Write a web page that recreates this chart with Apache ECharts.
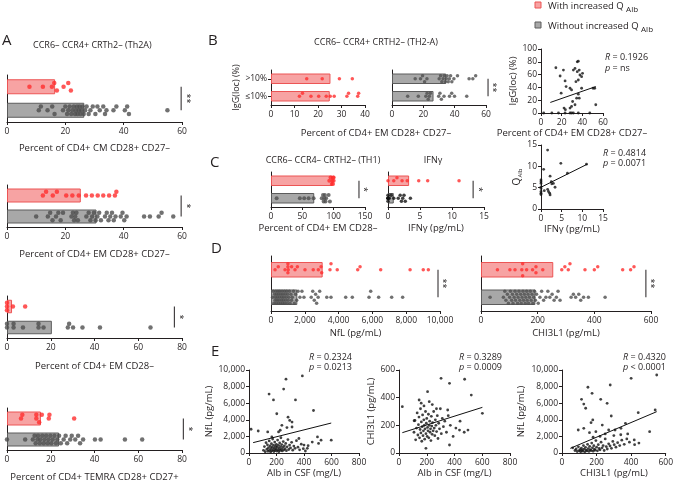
<!DOCTYPE html>
<html><head><meta charset="utf-8">
<script src="https://cdn.jsdelivr.net/npm/echarts@6/dist/echarts.min.js"></script>
<style>html,body{margin:0;padding:0;background:#fff}#c{width:676px;height:483px}</style>
</head><body><div id="c"></div>
<script>
// ================= DATA =================
// group order: index 0 = without increased Q_Alb (grey, bottom), 1 = with increased Q_Alb (red, top)
const groupCats = ['without', 'with'];

// A  CCR6– CCR4+ CRTh2– (Th2A)
const aCmBar = [26.5, 16.5];
const aCmWith = [7.7, 12.3, 15.4, 16.2, 17.1, 19.4, 21.0, 21.9];
const aCmWithout = [10.9, 11.6, 13.9, 15.5, 16.3, 19.2, 20.0, 20.6, 21.0, 21.5, 22.0, 22.4, 22.9, 23.3, 23.6, 24.0, 24.2, 24.6, 24.9, 25.2, 25.5, 25.9, 26.3, 26.8, 27.3, 28.0, 28.6, 29.4, 30.3, 31.0, 31.8, 33.0, 33.6, 34.1, 36.5, 37.5, 40.4, 41.2, 41.8, 55.0];

const aEm2827Bar = [30.7, 25.3];
const aEm2827With = [12.3, 13.4, 15.7, 17.1, 20.3, 22.4, 24.6, 27.1, 29.1, 31.1, 33.0, 35.0, 37.0, 37.5];
const aEm2827Without = [10.0, 14.0, 14.8, 15.6, 16.8, 17.6, 18.4, 19.2, 22.1, 22.6, 23.0, 23.4, 23.8, 24.3, 27.2, 28.0, 28.6, 29.2, 29.8, 30.4, 31.0, 31.6, 32.2, 33.6, 34.2, 34.8, 35.4, 36.0, 36.6, 37.2, 39.0, 39.6, 40.2, 41.0, 47.0, 49.0, 52.0, 53.0, 57.0];

const aEm28Bar = [20.5, 2.3];
const aEm28With = [0, 0, 0, 2.7, 8.3];
const aEm28Without = [0, 0, 3.0, 3.0, 7.3, 14.4, 14.4, 16.7, 27.8, 28.4, 30.2, 34.5, 42.5, 65.6];

const aTemraBar = [23.8, 15.5];
const aTemraWith = [6.4, 7.0, 13.4, 13.4, 14.7, 15.9, 19.1, 19.4, 30.7];
const aTemraWithout = [0, 8.3, 11.8, 12.6, 13.1, 13.9, 14.2, 15.0, 15.3, 16.1, 16.8, 17.2, 17.9, 18.6, 19.0, 19.8, 20.3, 20.9, 21.7, 22.4, 23.0, 23.8, 24.6, 25.9, 26.8, 27.5, 28.9, 29.6, 31.2, 32.5, 33.4, 34.8, 40.2, 42.8, 53.9, 61.8];

// B  CCR6– CCR4+ CRTH2– (TH2-A) by IgG(loc)
const bCats = ['≤10%', '>10%'];
const bWithBar = [25.0, 25.3];
const bWithLow = [12.1, 13.4, 17.0, 20.3, 23.5, 25.2, 26.9, 32.3, 33.0, 36.9, 37.3];
const bWithHigh = [15.2, 21.8, 29.1, 34.6];
const bWithoutBar = [26.5, 34.6];
const bWithoutLow = [10.0, 16.8, 21.6, 22.4, 23.1, 23.8, 24.5, 29.8, 30.6, 31.5, 33.2, 36.7, 38.1, 39.9, 47.7];
const bWithoutHigh = [14.8, 18.2, 19.5, 20.8, 22.3, 30.1, 31.0, 31.8, 32.6, 33.3, 34.0, 34.7, 35.2, 35.9, 36.6, 37.4, 38.2, 39.5, 41.8, 49.2, 51.6, 53.4];
const bScatter = [[14.4,70.7],[18.5,57.8],[19.5,31.0],[21.7,67.1],[23.3,50.1],[24.3,41.3],[22.3,7.7],[23.6,5.2],[28.1,38.7],[29.6,36.1],[31.3,67.1],[32.9,69.7],[35.1,80],[36.1,81],[35.1,64.5],[37.0,67.1],[37.7,59.4],[39.3,56.8],[40.2,62],[39.3,38.7],[33.8,49],[36.1,29.4],[34.5,23.2],[37,23.2],[30.6,18],[32.9,12.9],[28.1,7.7],[29.6,10.3],[36.1,51.6],[50.4,38.7],[52,38.7],[53,12.9],[2.6,0],[10.5,0],[16.9,0],[23.3,0],[28.1,0],[29.6,0],[31.3,0],[36.1,0],[47.2,0]];
const bFit = [[9, 16.5], [53, 41.3]];

// C  CCR6– CCR4– CRTH2– (TH1) and IFNγ
const cTh1Bar = [69, 98];
const cTh1With = [93, 95, 97, 98, 99, 99, 100, 100];
const cTh1Without = [9, 46, 53, 60, 68, 81, 83, 84, 85, 86, 87, 88, 92, 94];
const cIfnBar = [0.9, 3.3];
const cIfnWith = [0, 0.9, 1.4, 2.2, 3.0, 4.8, 6.2, 11.1];
const cIfnWithout = [0, 0, 0, 0, 0, 0.2, 0.5, 0.9, 1.6, 1.9, 2.1, 2.3, 2.5, 2.7, 3.5];
const cScatter = [[1.6,13.8],[0.64,9.3],[4.8,10.7],[11.0,10.5],[6.4,8.4],[2.2,7.7],[2.5,6.4],[3.0,6.0],[2.6,5.9],[3.4,5.1],[1.6,4.6],[1.8,4.1],[2.1,3.7],[2.2,3.3],[0.8,4.3],[0,6.8],[0,6.4],[0,6.0],[0,5.2],[0,4.8],[0,4.1],[0,3.7],[0,3.4]];
const cFit = [[0, 5.1], [11.2, 10.5]];

// D  NfL and CHI3L1
const dNflBar = [1558, 3057];
const dNflWith = [240, 430, 830, 1000, 1000, 1000, 1020, 1220, 1420, 1560, 2010, 2500, 2800, 2960, 3000, 3490, 3550, 3920, 5130, 5270, 6490, 8230, 9010, 9310];
const dNflWithout = [95, 140, 175, 210, 240, 255, 290, 310, 335, 360, 375, 410, 440, 455, 470, 505, 520, 560, 585, 610, 640, 655, 690, 705, 730, 760, 795, 810, 840, 870, 905, 930, 960, 985, 1020, 1060, 1090, 1130, 1180, 1215, 1260, 1330, 1380, 1450, 1520, 1600, 1710, 1830, 1950, 2380, 2470, 2560, 2640, 2700, 2790, 2880, 3300, 3550, 4420, 4810, 5800, 5900, 6370, 7140, 7790];
const dChiBar = [192, 255];
const dChiWith = [58, 102, 120, 144, 147, 147, 161, 182, 194, 194, 218, 285, 296, 308, 314, 367, 400, 412, 500, 528, 540];
const dChiWithout = [32, 79, 84, 88, 93, 97, 101, 104, 108, 111, 113, 117, 120, 122, 126, 129, 131, 134, 137, 140, 142, 145, 148, 150, 153, 156, 158, 161, 163, 166, 168, 171, 174, 177, 180, 183, 186, 189, 192, 196, 202, 208, 214, 221, 229, 236, 243, 251, 258, 266, 272, 279, 318, 326, 334, 345, 352, 362, 379, 438];

// E  correlations
const eAlbNfl = [[105,320],[112,780],[118,150],[124,1250],[130,460],[134,980],[138,210],[142,640],[147,1450],[150,330],[153,860],[157,120],[160,540],[163,1120],[166,260],[169,720],[172,1680],[175,410],[178,950],[181,180],[184,610],[187,1320],[190,300],[193,820],[196,490],[199,1050],[202,230],[205,700],[208,1560],[211,380],[214,920],[217,160],[220,560],[223,1210],[226,310],[229,780],[232,1840],[235,440],[238,1010],[241,250],[245,660],[249,1380],[253,350],[257,870],[262,520],[267,1150],[272,280],[277,740],[283,1620],[289,420],[295,960],[302,610],[310,1290],[318,340],[326,830],[335,560],[345,1480],[356,700],[368,380],[380,1060],[395,520],[410,240],[430,880],[460,1320],
  [15,2860],[67,2650],[136,2540],[146,7100],[178,6390],[202,4730],[227,2740],[252,7700],[269,8890],[338,6390],[388,9290],[469,5120],[313,3730],[166,1940],[215,2540],[239,3330],[276,3060],[284,4320],[296,3930],[313,3130],[363,1750],[400,950],[424,560],[498,1940],[524,1550],[598,1550],[506,1150]];
const eAlbNflFit = [[30, 1250], [598, 3610]];
const eAlbChi = [[108,150],[115,235],[120,95],[126,180],[131,290],[136,130],[140,205],[144,260],[148,110],[152,170],[155,320],[158,145],[161,225],[164,85],[167,190],[170,275],[173,125],[176,160],[179,240],[182,200],[185,100],[188,175],[191,300],[194,140],[197,215],[200,250],[203,120],[206,185],[209,160],[212,280],[215,110],[218,200],[221,230],[224,150],[227,175],[230,90],[233,265],[236,195],[239,135],[242,220],[246,160],[250,300],[254,180],[258,125],[262,240],[266,200],[271,155],[276,270],[281,105],[286,215],[292,175],[298,320],[305,140],[312,250],[320,190],[330,230],[342,150],[355,270],[370,200],[390,120],[410,180],[440,230],[470,150],
  [24,335],[109,233],[145,383],[206,443],[218,371],[303,540],[364,504],[351,311],[364,58],[194,34],[436,166],[473,533],[521,419],[497,166],[601,287],[160,360],[180,340],[240,350],[270,320]];
const eAlbChiFit = [[24, 147], [601, 330]];
const eChiNfl = [[62,620],[75,300],[82,480],[88,180],[95,750],[100,260],[104,410],[108,150],[112,580],[116,330],[120,220],[124,900],[128,470],[132,140],[136,680],[140,350],[144,250],[148,1050],[152,520],[156,190],[160,790],[164,400],[168,300],[172,1200],[176,620],[180,220],[184,880],[188,450],[192,340],[196,1500],[200,700],[205,260],[210,1000],[215,540],[220,380],[226,1300],[232,620],[238,900],[244,300],[250,1700],[256,780],[262,480],[270,1100],[278,850],[286,560],[294,1400],[302,1000],[312,700],[322,1250],[334,900],[346,1550],[360,1050],[375,1700],[390,1300],[420,1000],[445,1200],
  [400,9000],[548,9400],[279,8190],[150,7920],[174,7190],[113,6470],[224,6470],[126,5900],[137,5390],[261,5990],[539,5180],[441,4860],[285,4460],[507,2570],[418,1570],[94,2770],[126,2970],[178,3980],[168,3650],[233,3370],[367,3580],[341,2970],[307,2770],[270,2770],[196,2570],[159,2450],[340,2200],[300,2100],[220,2000],[180,1900],[250,2300],[380,2300]];
const eChiNflFit = [[48, 560], [548, 4980]];

// ================= STYLE / LAYOUT =================
const FONT = 'Open Sans';
const TXT = '#231f20';
const RED_FILL = '#f7a3a3', RED_EDGE = '#ec5555', RED_DOT = '#ff2d2d';
const GRAY_FILL = '#a8a8a8', GRAY_EDGE = '#5c5c5c', GRAY_DOT = '#4d4d4d';
const fmtK = v => String(v).replace(/\B(?=(\d{3})+(?!\d))/g, ',');

const grids = [], xAxes = [], yAxes = [], series = [], sigs = [];

function xAxisDef(gi, max, interval, name, nameGap, fmt) {
  return {gridIndex: gi, type: 'value', min: 0, max: max, interval: interval,
    axisLine: {show: true, onZero: false, lineStyle: {color: TXT, width: 1}},
    axisTick: {show: true, length: 3, lineStyle: {color: TXT}},
    axisLabel: {fontSize: 8.5, color: TXT, margin: 5, fontFamily: FONT, formatter: fmt},
    splitLine: {show: false},
    name: name || '', nameLocation: 'middle', nameGap: nameGap,
    nameTextStyle: {fontSize: 9.5, color: TXT, fontFamily: FONT}};
}

function swarm(vals, ppu, d, maxOff) {
  const idx = vals.map((v, i) => i).sort((a, b) => vals[a] - vals[b]);
  const placed = [], out = new Array(vals.length).fill(0);
  const step = d * 0.8;
  const cands = [0];
  for (let k = 1; k * step <= maxOff + 0.001; k++) cands.push(-k * step, k * step);
  for (const i of idx) {
    const x = vals[i] * ppu;
    let best = 0, bestD = -1;
    for (const c of cands) {
      let md = Infinity;
      for (const p of placed) {
        const dx = p.x - x;
        if (Math.abs(dx) < d) { const dd = Math.hypot(dx, p.y - c); if (dd < md) md = dd; }
      }
      if (md >= d) { best = c; break; }
      if (md > bestD) { bestD = md; best = c; }
    }
    placed.push({x: x, y: best}); out[i] = best;
  }
  return out;
}

function barPanel(box, cfg) {
  const gi = grids.length;
  grids.push({left: box.l, top: box.t, width: box.w, height: box.h});
  xAxes.push(xAxisDef(gi, cfg.max, cfg.interval, cfg.name, cfg.nameGap, cfg.fmt));
  yAxes.push({gridIndex: gi, type: 'category', data: cfg.cats,
    axisLine: {show: true, lineStyle: {color: TXT, width: 1}},
    axisTick: {show: !!cfg.catLabels, alignWithLabel: true, length: 3, lineStyle: {color: TXT}},
    axisLabel: {show: !!cfg.catLabels, fontSize: 8.5, color: TXT, margin: 4, fontFamily: FONT},
    name: cfg.yName || '', nameLocation: 'middle', nameGap: cfg.yNameGap || 30,
    nameTextStyle: {fontSize: 9, color: TXT, fontFamily: FONT}});
  series.push({type: 'bar', xAxisIndex: gi, yAxisIndex: gi, barWidth: box.bw, silent: true, z: 2,
    data: cfg.bars.map((v, i) => ({value: v, itemStyle: {color: cfg.fills[i], borderColor: cfg.edges[i], borderWidth: 1}}))});
  const ppu = box.w / cfg.max;
  cfg.groups.forEach((vals, ci) => {
    const offs = swarm(vals, ppu, box.ds + 0.2, box.bw / 2 - box.ds / 2 + 0.5);
    series.push({type: 'scatter', xAxisIndex: gi, yAxisIndex: gi, symbol: 'circle', symbolSize: box.ds,
      silent: true, z: 3, itemStyle: {color: cfg.dots[ci]},
      data: vals.map((v, k) => ({value: [v, ci], symbolOffset: [0, offs[k]]}))});
  });
  if (cfg.sig) sigs.push({gi: gi, x: cfg.sig[0], text: cfg.sig[1]});
}

function scatterPanel(box, cfg) {
  const gi = grids.length;
  grids.push({left: box.l, top: box.t, width: box.w, height: box.h});
  xAxes.push(xAxisDef(gi, cfg.xmax, cfg.xint, cfg.xname, cfg.xGap, cfg.xfmt));
  yAxes.push({gridIndex: gi, type: 'value', min: 0, max: cfg.ymax, interval: cfg.yint,
    axisLine: {show: true, onZero: false, lineStyle: {color: TXT, width: 1}},
    axisTick: {show: true, length: 3, lineStyle: {color: TXT}},
    axisLabel: {fontSize: 8.5, color: TXT, margin: 4, fontFamily: FONT, formatter: cfg.yfmt},
    splitLine: {show: false},
    name: cfg.yname, nameLocation: 'middle', nameGap: cfg.yGap,
    nameTextStyle: Object.assign({fontSize: 9.5, color: TXT, fontFamily: FONT}, cfg.yRich ? {rich: cfg.yRich} : {})});
  series.push({type: 'scatter', xAxisIndex: gi, yAxisIndex: gi, data: cfg.pts, symbol: 'circle', symbolSize: 2.8,
    silent: true, itemStyle: {color: '#111'}});
  series.push({type: 'line', xAxisIndex: gi, yAxisIndex: gi, data: cfg.fit, symbol: 'none', silent: true,
    lineStyle: {color: '#111', width: 1}});
}

const fillsRG = [GRAY_FILL, RED_FILL], edgesRG = [GRAY_EDGE, RED_EDGE], dotsRG = [GRAY_DOT, RED_DOT];

// Panel A
barPanel({l: 7, t: 75, w: 175, h: 47, bw: 15, ds: 4.5}, {cats: groupCats, max: 60, interval: 20,
  name: 'Percent of CD4+ CM CD28+ CD27–', nameGap: 21, bars: aCmBar, fills: fillsRG, edges: edgesRG, dots: dotsRG,
  groups: [aCmWithout, aCmWith], sig: [59.7, '**']});
barPanel({l: 7, t: 185, w: 175, h: 42, bw: 14, ds: 4.5}, {cats: groupCats, max: 60, interval: 20,
  name: 'Percent of CD4+ EM CD28+ CD27–', nameGap: 22, bars: aEm2827Bar, fills: fillsRG, edges: edgesRG, dots: dotsRG,
  groups: [aEm2827Without, aEm2827With], sig: [59.7, '*']});
barPanel({l: 7, t: 296, w: 175, h: 42, bw: 13.5, ds: 4.5}, {cats: groupCats, max: 80, interval: 20,
  name: 'Percent of CD4+ EM CD28–', nameGap: 23, bars: aEm28Bar, fills: fillsRG, edges: edgesRG, dots: dotsRG,
  groups: [aEm28Without, aEm28With], sig: [76.5, '*']});
barPanel({l: 7, t: 408, w: 175, h: 42, bw: 14, ds: 4.5}, {cats: groupCats, max: 80, interval: 20,
  name: 'Percent of CD4+ TEMRA CD28+ CD27+', nameGap: 22, bars: aTemraBar, fills: fillsRG, edges: edgesRG, dots: dotsRG,
  groups: [aTemraWithout, aTemraWith], sig: [80.6, '*']});

// Panel B
barPanel({l: 271, t: 70, w: 94, h: 35, bw: 10.5, ds: 3.5}, {cats: bCats, max: 40, interval: 10, catLabels: true,
  yName: 'IgG(loc) (%)', yNameGap: 30, bars: bWithBar, fills: [RED_FILL, RED_FILL], edges: [RED_EDGE, RED_EDGE],
  dots: [RED_DOT, RED_DOT], groups: [bWithLow, bWithHigh]});
barPanel({l: 392, t: 70, w: 94, h: 35, bw: 10.5, ds: 3.5}, {cats: bCats, max: 60, interval: 20,
  bars: bWithoutBar, fills: [GRAY_FILL, GRAY_FILL], edges: [GRAY_EDGE, GRAY_EDGE],
  dots: [GRAY_DOT, GRAY_DOT], groups: [bWithoutLow, bWithoutHigh], sig: [61.3, '**']});
scatterPanel({l: 541, t: 49, w: 62, h: 64}, {xmax: 60, xint: 20, ymax: 100, yint: 20,
  xname: 'Percent of CD4+ EM CD28+ CD27–', xGap: 12, yname: 'IgG(loc) (%)', yGap: 14, pts: bScatter, fit: bFit});

// Panel C
barPanel({l: 271, t: 172, w: 94, h: 35, bw: 10.5, ds: 4}, {cats: groupCats, max: 150, interval: 50,
  name: 'Percent of CD4+ EM CD28–', nameGap: 16, bars: cTh1Bar, fills: fillsRG, edges: edgesRG, dots: dotsRG,
  groups: [cTh1Without, cTh1With], sig: [140.4, '*']});
barPanel({l: 388, t: 172, w: 96, h: 35, bw: 10.5, ds: 3.5}, {cats: groupCats, max: 15, interval: 5,
  name: 'IFNγ (pg/mL)', nameGap: 16, bars: cIfnBar, fills: fillsRG, edges: edgesRG, dots: ['#111', RED_DOT],
  groups: [cIfnWithout, cIfnWith], sig: [13.3, '*']});
scatterPanel({l: 541, t: 145, w: 62, h: 64}, {xmax: 15, xint: 5, ymax: 15, yint: 5,
  xname: 'IFNγ (pg/mL)', xGap: 14, yname: '{q|Q}{s|Alb}', yGap: 16,
  yRich: {q: {fontSize: 10, fontFamily: FONT, color: TXT}, s: {fontSize: 6, fontFamily: FONT, color: TXT, padding: [6, 0, 0, 0]}},
  pts: cScatter, fit: cFit});

// Panel D
barPanel({l: 271, t: 256, w: 169, h: 55, bw: 15.5, ds: 3.5}, {cats: groupCats, max: 10000, interval: 2000, fmt: fmtK,
  name: 'NfL (pg/mL)', nameGap: 17, bars: dNflBar, fills: fillsRG, edges: edgesRG, dots: dotsRG,
  groups: [dNflWithout, dNflWith], sig: [9882, '**']});
barPanel({l: 481, t: 256, w: 170, h: 55, bw: 15.5, ds: 3.5}, {cats: groupCats, max: 600, interval: 200,
  name: 'CHI3L1 (pg/mL)', nameGap: 17, bars: dChiBar, fills: fillsRG, edges: edgesRG, dots: dotsRG,
  groups: [dChiWithout, dChiWith], sig: [582, '**']});

// Panel E
scatterPanel({l: 249, t: 370, w: 110, h: 83}, {xmax: 800, xint: 200, ymax: 10000, yint: 2000, yfmt: fmtK,
  xname: 'Alb in CSF (mg/L)', xGap: 13, yname: 'NfL (pg/mL)', yGap: 33, pts: eAlbNfl, fit: eAlbNflFit});
scatterPanel({l: 399, t: 370, w: 111, h: 83}, {xmax: 800, xint: 200, ymax: 600, yint: 200,
  xname: 'Alb in CSF (mg/L)', xGap: 13, yname: 'CHI3L1 (pg/mL)', yGap: 21, pts: eAlbChi, fit: eAlbChiFit});
scatterPanel({l: 562, t: 370, w: 104, h: 83}, {xmax: 600, xint: 200, ymax: 10000, yint: 2000, yfmt: fmtK,
  xname: 'CHI3L1 (pg/mL)', xGap: 13, yname: 'NfL (pg/mL)', yGap: 36, pts: eChiNfl, fit: eChiNflFit});

// ================= TEXT =================
function txt(x, y, text, opt) {
  opt = opt || {};
  return {type: 'text', x: x, y: y, silent: true, rotation: opt.rot || 0,
    style: {text: text, fontSize: opt.fs || 9.5, fontFamily: FONT, fill: TXT,
      align: opt.align || 'left', textAlign: opt.align || 'left',
      verticalAlign: 'middle', textVerticalAlign: 'middle', rich: opt.rich}};
}
const itRich = {i: {fontStyle: 'italic', fontSize: 9, fontFamily: FONT, fill: TXT, color: TXT}, n: {fontSize: 9, fontFamily: FONT, fill: TXT, color: TXT}};
const legRich = {a: {fontSize: 9.5, fontFamily: FONT, color: TXT, lineHeight: 12}, s: {fontSize: 8, fontFamily: FONT, color: TXT, lineHeight: 8, padding: [8, 0, 0, 0]}};
const texts = [
  txt(2, 41, 'A', {fs: 15}), txt(208, 41, 'B', {fs: 15}), txt(210, 163, 'C', {fs: 15}),
  txt(211, 249, 'D', {fs: 15}), txt(211, 352, 'E', {fs: 15}),
  txt(33, 45, 'CCR6– CCR4+ CRTh2– (Th2A)', {fs: 9}),
  txt(376, 42, 'CCR6– CCR4+ CRTH2– (TH2-A)', {fs: 9, align: 'center'}),
  txt(376, 133, 'Percent of CD4+ EM CD28+ CD27–', {fs: 9.5, align: 'center'}),
  txt(323, 160, 'CCR6– CCR4– CRTH2– (TH1)', {fs: 9, align: 'center'}),
  txt(433, 160, 'IFNγ', {fs: 9, align: 'center'}),
  txt(605, 57, '{i|R}{n| = 0.1926}', {rich: itRich}), txt(605, 68, '{i|p}{n| = ns}', {rich: itRich}),
  txt(603, 153, '{i|R}{n| = 0.4814}', {rich: itRich}), txt(603, 163, '{i|p}{n| = 0.0071}', {rich: itRich}),
  txt(352, 357, '{i|R}{n| = 0.2324}', {rich: itRich, align: 'right'}), txt(352, 367, '{i|p}{n| = 0.0213}', {rich: itRich, align: 'right'}),
  txt(502, 357, '{i|R}{n| = 0.3289}', {rich: itRich, align: 'right'}), txt(502, 367, '{i|p}{n| = 0.0009}', {rich: itRich, align: 'right'}),
  txt(666, 357, '{i|R}{n| = 0.4320}', {rich: itRich, align: 'right'}), txt(666, 367, '{i|p}{n| < 0.0001}', {rich: itRich, align: 'right'}),
  {type: 'rect', shape: {x: 535, y: 2, width: 6, height: 6}, style: {fill: RED_FILL, stroke: RED_EDGE, lineWidth: 1}, silent: true},
  {type: 'rect', shape: {x: 535, y: 22, width: 6, height: 6}, style: {fill: GRAY_FILL, stroke: GRAY_EDGE, lineWidth: 1}, silent: true},
  txt(548, 6, '{a|With increased Q }{s|Alb}', {rich: legRich}),
  txt(548, 26, '{a|Without increased Q }{s|Alb}', {rich: legRich})
];

const chart = echarts.init(document.getElementById('c'), null, {renderer: 'canvas'});
const option = {animation: false, backgroundColor: '#fff', textStyle: {fontFamily: FONT},
  grid: grids, xAxis: xAxes, yAxis: yAxes, series: series, graphic: {elements: texts}};
chart.setOption(option);

// significance markers placed through the axes' scales
const sigEls = [];
sigs.forEach(s => {
  const p0 = chart.convertToPixel({gridIndex: s.gi}, [s.x, 0]);
  const p1 = chart.convertToPixel({gridIndex: s.gi}, [s.x, 1]);
  sigEls.push({type: 'line', silent: true, shape: {x1: p0[0], y1: p0[1], x2: p1[0], y2: p1[1]}, style: {stroke: TXT, lineWidth: 1}});
  sigEls.push({type: 'text', silent: true, x: p0[0] + 5, y: (p0[1] + p1[1]) / 2, rotation: -Math.PI / 2,
    style: {text: s.text, fontSize: 9, fontFamily: FONT, fill: TXT, align: 'center', textAlign: 'center', verticalAlign: 'middle', textVerticalAlign: 'middle'}});
});
chart.setOption({graphic: {elements: texts.concat(sigEls)}});
</script></body></html>
